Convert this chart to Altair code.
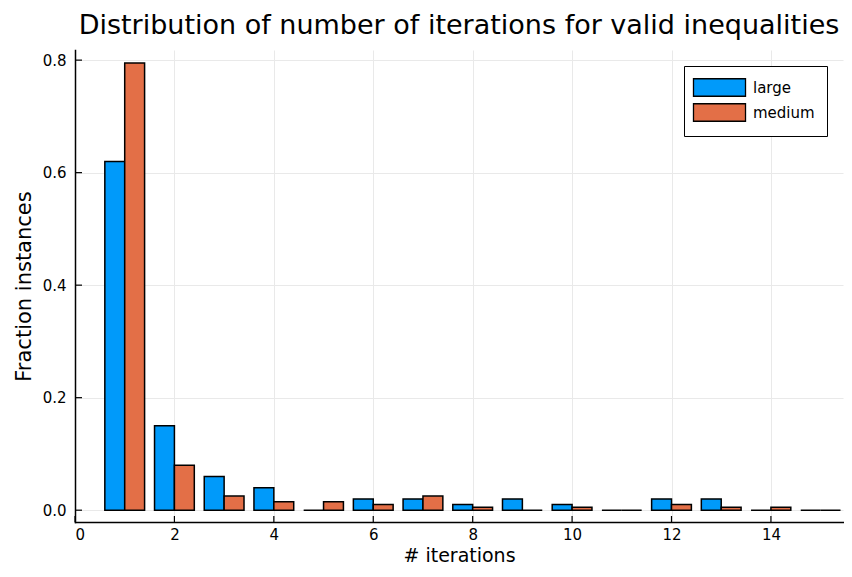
import altair as alt
import pandas as pd

iterations = list(range(1, 16))
large = [0.62, 0.15, 0.06, 0.04, 0.0, 0.02, 0.02, 0.01, 0.02, 0.01, 0.0, 0.02, 0.02, 0.0, 0.0]
medium = [0.795, 0.08, 0.025, 0.015, 0.015, 0.01, 0.025, 0.005, 0.0, 0.005, 0.0, 0.01, 0.005, 0.005, 0.0]
series_names = ["large", "medium"]
series_colors = ["#009AFA", "#E36F47"]
x_ticks = [0, 2, 4, 6, 8, 10, 12, 14]
y_ticks = [0.0, 0.2, 0.4, 0.6, 0.8]

rows = []
for i, it in enumerate(iterations):
    rows.append({"it": it, "series": "large", "value": large[i], "k": 0})
    rows.append({"it": it, "series": "medium", "value": medium[i], "k": 1})
df = pd.DataFrame(rows)

W, H = 768, 472
FONT = "DejaVu Sans"
xdom = [0, 15.45]
ydom = [-0.021, 0.818]
xs = alt.Scale(domain=xdom, nice=False, zero=False)
ys = alt.Scale(domain=ydom, nice=False, zero=False)

bars = alt.Chart(df).transform_calculate(
    x0="datum.it - 0.4 + 0.4*datum.k",
    x1="datum.it + 0.4*datum.k",
    y0="0",
).mark_bar(stroke="black", strokeWidth=1.5, opacity=1).encode(
    x=alt.X("x0:Q", scale=xs, axis=alt.Axis(
        values=x_ticks, title="# iterations", grid=True, gridColor="#e9e9e9",
        tickSize=0, domainColor="black", domainWidth=1.5, labelFontSize=15,
        labelColor="black", labelFont=FONT, titleFont=FONT, titleFontSize=19,
        titleFontWeight="normal", titleColor="black", labelPadding=5, titlePadding=4)),
    x2="x1:Q",
    y=alt.Y("y0:Q", scale=ys),
    y2="value:Q",
    fill=alt.Fill("series:N", scale=alt.Scale(domain=series_names, range=series_colors),
                  legend=alt.Legend(title=None, orient="none", legendX=609, legendY=16,
                                    fillColor="white", strokeColor="black",
                                    padding=12,
                                    symbolType="M-3.06,-1.03L3.06,-1.03L3.06,1.03L-3.06,1.03Z",
                                    symbolSize=289, symbolStrokeColor="black", symbolStrokeWidth=1.3,
                                    labelFontSize=15, labelFont=FONT, labelColor="black",
                                    labelOffset=24, symbolOffset=14)),
)

yaxis = alt.Chart(df).mark_point(opacity=0).encode(
    y=alt.Y("value:Q", scale=ys, axis=alt.Axis(
        values=y_ticks, format=".1f", title="Fraction instances", grid=True, gridColor="#e9e9e9",
        tickSize=0, domainColor="black", domainWidth=1.5, labelFontSize=15, labelColor="black",
        labelFont=FONT, titleFont=FONT, titleFontSize=21, titleFontWeight="normal",
        titleColor="black", labelPadding=9, titlePadding=8)),
)

xt = pd.DataFrame({"t": x_ticks})
yt = pd.DataFrame({"t": y_ticks})
xtick = alt.Chart(xt).mark_rule(color="black", strokeWidth=1.2).encode(
    x=alt.X("t:Q", scale=xs), y=alt.value(H), y2=alt.value(H - 6))
ytick = alt.Chart(yt).mark_rule(color="black", strokeWidth=1.2).encode(
    y=alt.Y("t:Q", scale=ys), x=alt.value(0), x2=alt.value(7))

chart = alt.layer(yaxis, bars, xtick, ytick).properties(
    width=W, height=H,
    title=alt.TitleParams("Distribution of number of iterations for valid inequalities",
                          fontSize=27, font=FONT, fontWeight="normal", color="black",
                          anchor="middle", offset=10),
    autosize=alt.AutoSizeParams(type="none"),
    padding={"left": 67, "top": 42, "right": 1, "bottom": 47},
).configure_view(stroke=None).configure_axis(domainCap="square")

chart.save("out.html", embed_options={"renderer": "svg", "actions": False})
